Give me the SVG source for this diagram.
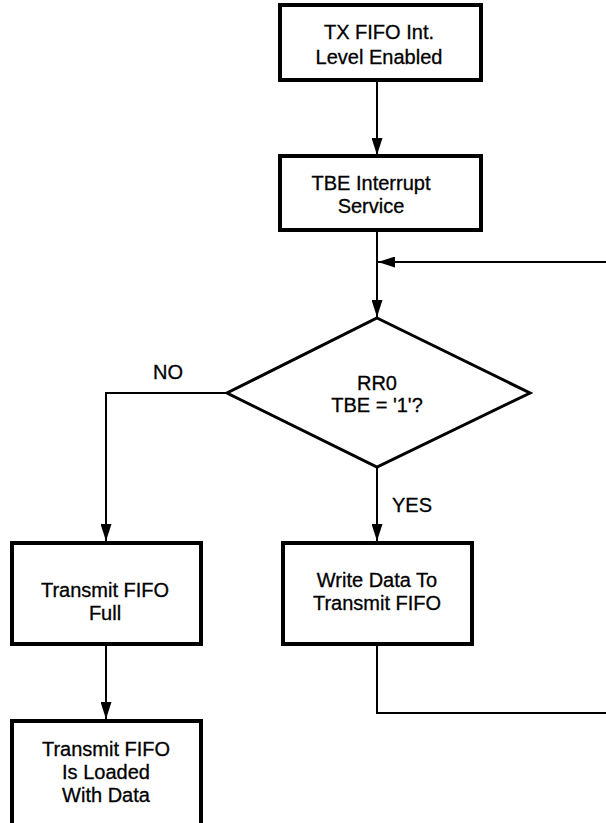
<svg xmlns="http://www.w3.org/2000/svg" width="606" height="823" viewBox="0 0 606 823">
<style>
.box{fill:#fff;stroke:#000;stroke-width:4}
.dia{fill:#fff;stroke:#000;stroke-width:3;stroke-linejoin:miter}
.con{fill:none;stroke:#000;stroke-width:2}
text{font-family:"Liberation Sans",Arial,sans-serif;font-size:20px;fill:#000;stroke:#000;stroke-width:0.3}
.c{text-anchor:middle}
</style>
<defs>
<marker id="ah" markerUnits="userSpaceOnUse" markerWidth="17" markerHeight="11" refX="17" refY="5.5" orient="auto">
<path d="M0,0 L17,5.5 L0,11 z" fill="#000"/>
</marker>
</defs>
<rect width="606" height="823" fill="#fff"/>
<g id="connectors">
<path class="con" d="M377,82 V155" marker-end="url(#ah)"/>
<path class="con" d="M377,232 V317" marker-end="url(#ah)"/>
<path class="con" d="M606,262 H378" marker-end="url(#ah)"/>
<path class="con" d="M227,393 H106 V541" marker-end="url(#ah)"/>
<path class="con" d="M377,467 V541" marker-end="url(#ah)"/>
<path class="con" d="M377,645 V713 H606"/>
<path class="con" d="M106,645 V719" marker-end="url(#ah)"/>
<text x="168" y="379" class="c">NO</text>
<text x="392" y="512">YES</text>
</g>
<g id="n1">
<rect class="box" x="280" y="5" width="201" height="75"/>
<text x="379" y="39" class="c">TX FIFO Int.</text>
<text x="379" y="64" class="c">Level Enabled</text>
</g>
<g id="n2">
<rect class="box" x="280" y="156" width="201" height="74"/>
<text x="371" y="190" class="c">TBE Interrupt</text>
<text x="371" y="213" class="c">Service</text>
</g>
<g id="n3">
<polygon class="dia" points="377,318 530,393 377,467 227,393"/>
<text x="377" y="390" class="c">RR0</text>
<text x="377" y="412" class="c">TBE = '1'?</text>
</g>
<g id="n4">
<rect class="box" x="12" y="543" width="189" height="101"/>
<text x="105" y="597" class="c">Transmit FIFO</text>
<text x="105" y="620" class="c">Full</text>
</g>
<g id="n5">
<rect class="box" x="283" y="543" width="189" height="101"/>
<text x="377" y="587" class="c">Write Data To</text>
<text x="377" y="610" class="c">Transmit FIFO</text>
</g>
<g id="n6">
<rect class="box" x="12" y="721" width="189" height="110"/>
<text x="106" y="756" class="c">Transmit FIFO</text>
<text x="106" y="779" class="c">Is Loaded</text>
<text x="106" y="802" class="c">With Data</text>
</g>
</svg>
